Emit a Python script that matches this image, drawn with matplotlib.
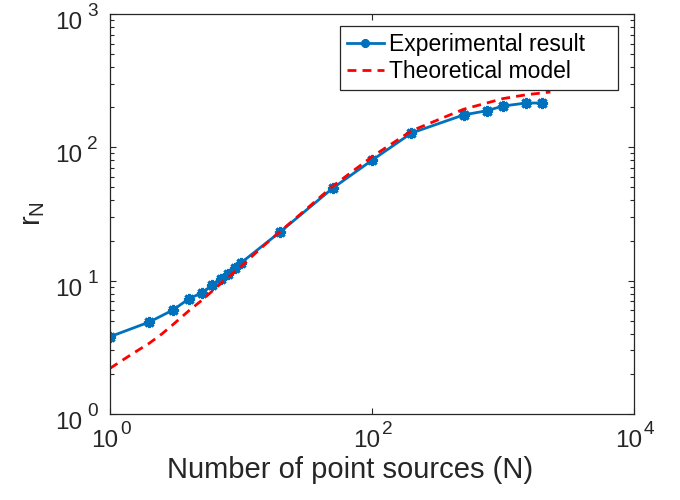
import matplotlib
matplotlib.use("Agg")
import matplotlib.pyplot as plt
from matplotlib.ticker import LogLocator, NullLocator, FixedLocator, NullFormatter

# Experimental result
exp_N = [1, 2, 3, 4, 5, 6, 7, 8, 9, 10, 20, 50, 100, 200, 500, 750, 1000, 1500, 2000]
exp_r = [3.8, 4.9, 6.0, 7.3, 8.1, 9.2, 10.3, 11.3, 12.4, 13.6, 23.3, 49.3, 80, 128, 175, 188, 204, 215, 215]

# Theoretical model
th_N = [1, 1.5, 2, 2.5, 3, 4, 5, 7, 10, 15, 20, 30, 50, 100, 200, 500, 1000, 1500, 2300]
th_r = [2.2, 2.85, 3.4, 4.0, 4.65, 5.95, 7.1, 9.5, 12.8, 18.4, 23.5, 33, 51, 85, 133, 193, 232, 248, 260]

x_ticks = [1, 100, 10000]
x_exps = ["0", "2", "4"]
y_ticks = [1, 10, 100, 1000]
y_exps = ["0", "1", "2", "3"]

xlabel = "Number of point sources (N)"
ylabel = r"r$_{N}$"
legend_labels = ["Experimental result", "Theoretical model"]

plt.rcParams["font.family"] = ["Liberation Sans", "DejaVu Sans"]
plt.rcParams["mathtext.fontset"] = "custom"
plt.rcParams["mathtext.rm"] = "Liberation Sans"
plt.rcParams["mathtext.it"] = "Liberation Sans"
plt.rcParams["mathtext.default"] = "regular"

fig = plt.figure(figsize=(6.8, 5), dpi=100)
ax = fig.add_axes([110/680, 86/500, 524/680, 400/500])

blue = (0, 0.447, 0.741)
dark = (0.15, 0.15, 0.15)

ax.plot(exp_N, exp_r, color=blue, lw=2.0, marker=(8, 2, 0), ms=8, mew=2.2,
        label=legend_labels[0])
ax.plot(th_N, th_r, color=(1, 0, 0), lw=2.0, ls=(0, (3.2, 2.2)),
        label=legend_labels[1])

ax.set_xscale("log")
ax.set_yscale("log")
ax.set_xlim(1, 1e4)
ax.set_ylim(1, 1e3)
ax.xaxis.set_major_locator(FixedLocator(x_ticks))
ax.xaxis.set_minor_locator(NullLocator())
ax.yaxis.set_major_locator(FixedLocator(y_ticks))
ax.yaxis.set_minor_locator(LogLocator(base=10, subs=range(2, 10), numticks=10))
ax.xaxis.set_major_formatter(NullFormatter())
ax.yaxis.set_major_formatter(NullFormatter())
ax.yaxis.set_minor_formatter(NullFormatter())

for s in ax.spines.values():
    s.set_color(dark)
    s.set_linewidth(0.9)
ax.tick_params(which="both", direction="in", top=True, right=True, color=dark,
               width=0.8)
ax.tick_params(which="major", length=4.5)
ax.tick_params(which="minor", length=3)

main_fs = 17.5
sup_fs = 13.7
# tick labels as base "10" plus a larger superscript exponent
for v, e in zip(y_ticks, y_exps):
    ax.annotate("10", xy=(0, v), xycoords=("axes fraction", "data"),
                xytext=(-28, -15), textcoords="offset pixels",
                ha="right", va="baseline", fontsize=main_fs, color=dark,
                annotation_clip=False)
    ax.annotate(e, xy=(0, v), xycoords=("axes fraction", "data"),
                xytext=(-12, -2), textcoords="offset pixels",
                ha="right", va="baseline", fontsize=sup_fs, color=dark,
                annotation_clip=False)
for v, e in zip(x_ticks, x_exps):
    ax.annotate("10", xy=(v, 0), xycoords=("data", "axes fraction"),
                xytext=(8, -33), textcoords="offset pixels",
                ha="right", va="baseline", fontsize=main_fs, color=dark,
                annotation_clip=False)
    ax.annotate(e, xy=(v, 0), xycoords=("data", "axes fraction"),
                xytext=(10, -20), textcoords="offset pixels",
                ha="left", va="baseline", fontsize=sup_fs, color=dark,
                annotation_clip=False)

ax.set_xlabel(xlabel, fontsize=21, color=dark)
ax.xaxis.set_label_coords(0.458, -0.105)
ax.set_ylabel(ylabel, fontsize=21, color=dark)
ax.yaxis.set_label_coords(-0.12, 0.5)

leg = ax.legend(loc="upper left", bbox_to_anchor=(0.439, 0.8125, 0.5305, 0.1575),
                mode="expand", borderaxespad=0,
                fontsize=16.5, numpoints=1, fancybox=False, framealpha=1,
                edgecolor=dark, handlelength=1.6, handletextpad=0.25,
                borderpad=0.3, labelspacing=0.2)
leg.get_frame().set_linewidth(0.9)
for h in leg.legend_handles:
    try:
        h.set_markersize(6)
    except Exception:
        pass

fig.savefig("out.png", dpi=100)
